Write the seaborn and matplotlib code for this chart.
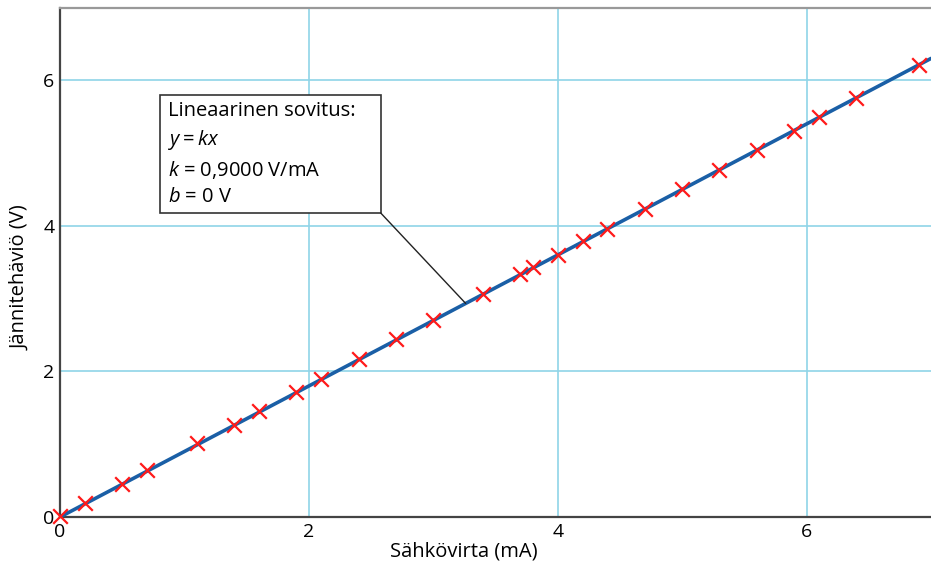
import matplotlib
matplotlib.use("Agg")
import matplotlib.pyplot as plt
import seaborn as sns
import pandas as pd
from matplotlib.ticker import FixedLocator
from matplotlib.patches import Rectangle

# Data
current_mA = [0.0, 0.2, 0.5, 0.7, 1.1, 1.4, 1.6, 1.9, 2.1, 2.4, 2.7, 3.0, 3.4,
              3.7, 3.8, 4.0, 4.2, 4.4, 4.7, 5.0, 5.3, 5.6, 5.9, 6.1, 6.4, 6.9]
voltage_V = [0.01, 0.19, 0.46, 0.64, 1.01, 1.26, 1.45, 1.72, 1.90, 2.17, 2.44,
             2.71, 3.06, 3.34, 3.43, 3.60, 3.79, 3.96, 4.23, 4.50, 4.77, 5.04,
             5.31, 5.49, 5.76, 6.21]
fit_x = [0.0, 7.0]
fit_y = [0.0, 6.3]
major_ticks = [0, 2, 4, 6]
minor_ticks = [1, 3, 5]
xlabel = "Sähkövirta (mA)"
ylabel = "Jännitehäviö (V)"
box_text = "Lineaarinen sovitus:\n$y = kx$\n$k$ = 0,9000 V/mA\n$b$ = 0 V"

sns.set_style("white")
plt.rcParams['font.family'] = ['Open Sans', 'DejaVu Sans']
plt.rcParams['mathtext.fontset'] = 'custom'
plt.rcParams['mathtext.rm'] = 'Open Sans'
plt.rcParams['mathtext.it'] = 'Open Sans:italic'

fig = plt.figure(figsize=(9.31, 5.65), dpi=100)
ax = fig.add_axes([60/931, 48/565, 871/931, (517-7.5)/565])

df_pts = pd.DataFrame({"x": current_mA, "y": voltage_V})
df_fit = pd.DataFrame({"x": fit_x, "y": fit_y})

sns.lineplot(data=df_fit, x="x", y="y", ax=ax, color="#1a5fa6", linewidth=2.6, zorder=3)
sns.scatterplot(data=df_pts, x="x", y="y", ax=ax, marker="x", color="#ff1a1a",
                s=110, linewidth=1.6, zorder=4, clip_on=False)

ax.set_xlim(0, 7)
ax.set_ylim(0, 7)
ax.xaxis.set_major_locator(FixedLocator(major_ticks))
ax.yaxis.set_major_locator(FixedLocator(major_ticks))
ax.xaxis.set_minor_locator(FixedLocator(minor_ticks))
ax.yaxis.set_minor_locator(FixedLocator(minor_ticks))
ax.grid(True, which="major", color="#8fd4e8", linewidth=1.2, zorder=0)
ax.set_axisbelow(True)
ax.tick_params(which="both", direction="in", length=8, width=1.3, color="#777777",
               labelsize=14, labelcolor="#000000", pad=4)

for s in ["left", "bottom"]:
    ax.spines[s].set_color("#444444")
    ax.spines[s].set_linewidth(1.6)
ax.spines["top"].set_color("#999999")
ax.spines["top"].set_linewidth(1.6)
ax.spines["right"].set_visible(False)

ax.set_xlabel(xlabel, fontsize=14.5, color="#000000")
ax.set_ylabel(ylabel, fontsize=14.5, color="#000000")
ax.xaxis.set_label_coords((464 - 60) / 871, -(552 - 517) / 509.5, transform=ax.transAxes)
ax.yaxis.set_label_coords(-(60 - 20) / 871, (517 - 278) / 509.5, transform=ax.transAxes)
ax.xaxis.label.set_va("center")
ax.yaxis.label.set_va("center")

# Annotation box (fit info) with leader line to the fit line
box_left, box_right, box_bottom, box_top = 0.803, 2.578, 4.176, 5.797
ax.add_patch(Rectangle((box_left, box_bottom), box_right - box_left, box_top - box_bottom,
                       fc="white", ec="#333333", lw=1.2, zorder=5))
ax.text(0.867, 5.71, box_text, ha="left", va="top", fontsize=14.5,
        linespacing=1.4, color="#000000", zorder=6)
ax.annotate("", xy=(3.26, 2.935), xytext=(box_right, box_bottom),
            arrowprops=dict(arrowstyle="-", color="#222222", lw=1.0,
                            shrinkA=0, shrinkB=0), zorder=5)

fig.savefig("out.png", dpi=100)
